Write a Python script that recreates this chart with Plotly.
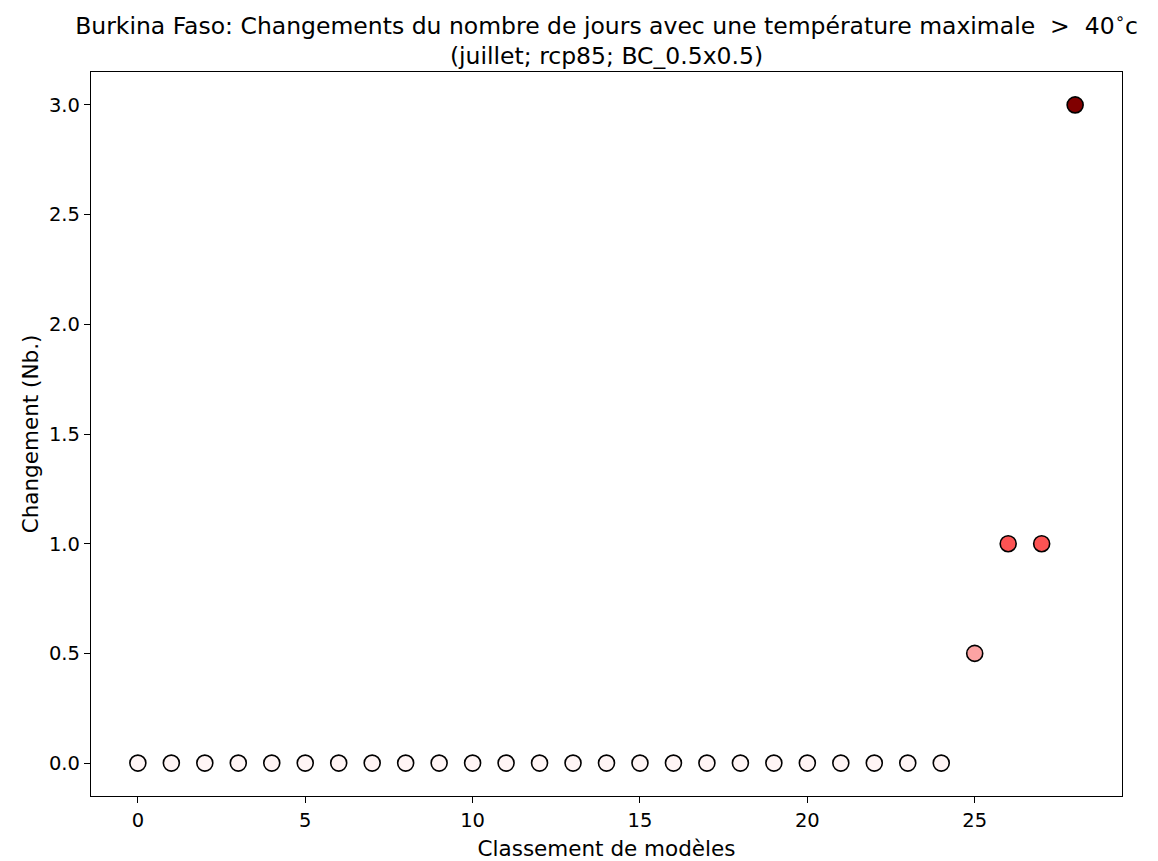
import plotly.graph_objects as go

ranks = list(range(29))
changes = [0.0]*25 + [0.5, 1.0, 1.0, 3.0]
colors = ["#fff5f5"]*25 + ["#fca3a3", "#fc5353", "#fc5353", "#800000"]

title_line1 = "Burkina Faso: Changements du nombre de jours avec une température maximale  &gt;  40<sup>∘</sup>c"
title_line2 = "(juillet; rcp85; BC_0.5x0.5)"
x_title = "Classement de modèles"
y_title = "Changement (Nb.)"

fig = go.Figure()
fig.add_trace(go.Scatter(
    x=ranks, y=changes, mode="markers",
    marker=dict(size=16, color=colors, line=dict(color="black", width=1.6)),
    showlegend=False,
))

font = dict(family="DejaVu Sans", size=20, color="black")
fig.update_layout(
    width=1158, height=861,
    margin=dict(l=83, r=44, t=64, b=73),
    paper_bgcolor="white", plot_bgcolor="white",
    font=font,
    title=dict(text=title_line1 + "<br>" + title_line2, x=0.5, xref="paper", xanchor="center",
               y=0.970, yanchor="top", font=dict(family="DejaVu Sans", size=23.5, color="black")),
)
fig.update_xaxes(
    range=[-1.4, 29.4], tickmode="array", tickvals=[0, 5, 10, 15, 20, 25],
    showgrid=False, zeroline=False, showline=True, linecolor="black", linewidth=1.3,
    mirror=True, ticks="outside", ticklen=6, tickwidth=1.3, tickcolor="black",
    tickfont=dict(family="DejaVu Sans", size=19.5, color="black"),
    title=dict(text=x_title, standoff=10, font=dict(family="DejaVu Sans", size=21.5, color="black")),
)
fig.update_yaxes(
    range=[-0.15, 3.15], tickmode="array", tickvals=[0, 0.5, 1.0, 1.5, 2.0, 2.5, 3.0],
    ticktext=["0.0", "0.5", "1.0", "1.5", "2.0", "2.5", "3.0"],
    showgrid=False, zeroline=False, showline=True, linecolor="black", linewidth=1.3,
    mirror=True, ticks="outside", ticklen=6, tickwidth=1.3, tickcolor="black",
    tickfont=dict(family="DejaVu Sans", size=19.5, color="black"),
    title=dict(text=y_title, standoff=4, font=dict(family="DejaVu Sans", size=21.5, color="black")),
)
fig.write_html("out.html")
